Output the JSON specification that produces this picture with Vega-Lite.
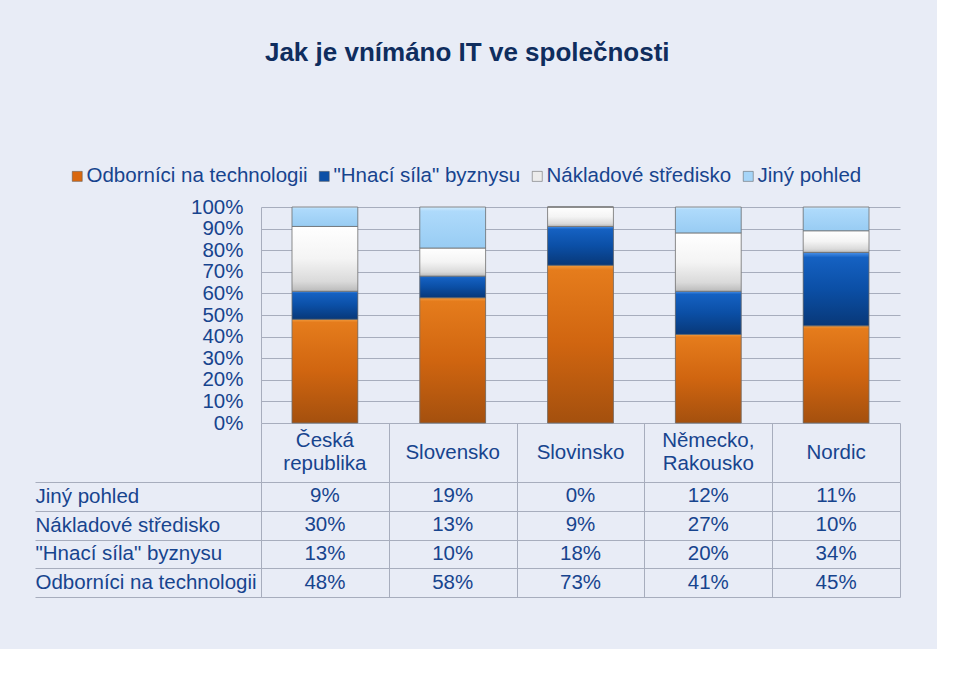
{
  "$schema": "https://vega.github.io/schema/vega-lite/v6.json",
  "background": "#E8ECF6",
  "padding": {"left": 34, "top": 40, "right": 37, "bottom": 51},
  "title": {
    "text": "Jak je vnímáno IT ve společnosti",
    "fontSize": 26,
    "font": "Liberation Sans",
    "fontWeight": "bold",
    "color": "#0F2D5E",
    "anchor": "middle",
    "offset": 100
  },
  "datasets": {
    "survey": [
      {"country": "Česká republika", "series": "Odborníci na technologii", "value": 0.48},
      {"country": "Česká republika", "series": "\"Hnací síla\" byznysu", "value": 0.13},
      {"country": "Česká republika", "series": "Nákladové středisko", "value": 0.30},
      {"country": "Česká republika", "series": "Jiný pohled", "value": 0.09},
      {"country": "Slovensko", "series": "Odborníci na technologii", "value": 0.58},
      {"country": "Slovensko", "series": "\"Hnací síla\" byznysu", "value": 0.10},
      {"country": "Slovensko", "series": "Nákladové středisko", "value": 0.13},
      {"country": "Slovensko", "series": "Jiný pohled", "value": 0.19},
      {"country": "Slovinsko", "series": "Odborníci na technologii", "value": 0.73},
      {"country": "Slovinsko", "series": "\"Hnací síla\" byznysu", "value": 0.18},
      {"country": "Slovinsko", "series": "Nákladové středisko", "value": 0.09},
      {"country": "Slovinsko", "series": "Jiný pohled", "value": 0.00},
      {"country": "Německo, Rakousko", "series": "Odborníci na technologii", "value": 0.41},
      {"country": "Německo, Rakousko", "series": "\"Hnací síla\" byznysu", "value": 0.20},
      {"country": "Německo, Rakousko", "series": "Nákladové středisko", "value": 0.27},
      {"country": "Německo, Rakousko", "series": "Jiný pohled", "value": 0.12},
      {"country": "Nordic", "series": "Odborníci na technologii", "value": 0.45},
      {"country": "Nordic", "series": "\"Hnací síla\" byznysu", "value": 0.34},
      {"country": "Nordic", "series": "Nákladové středisko", "value": 0.10},
      {"country": "Nordic", "series": "Jiný pohled", "value": 0.11}
    ]
  },
  "spacing": 0,
  "bounds": "flush",
  "resolve": {"legend": {"color": "independent"}, "scale": {"x": "independent", "y": "independent", "color": "independent"}},
  "vconcat": [
    {
      "width": 639,
      "height": 216,
      "data": {"name": "survey"},
      "transform": [
        {"calculate": "indexof(['Odborníci na technologii', '\"Hnací síla\" byznysu', 'Nákladové středisko', 'Jiný pohled'], datum.series)", "as": "stackOrder"},
        {"stack": "value", "groupby": ["country"], "sort": [{"field": "stackOrder", "order": "ascending"}], "as": ["v0", "v1"]}
      ],
      "encoding": {
        "x": {
          "field": "country",
          "type": "nominal",
          "sort": ["Česká republika", "Slovensko", "Slovinsko", "Německo, Rakousko", "Nordic"],
          "scale": {"paddingInner": 0, "paddingOuter": 0},
          "axis": null
        },
        "y": {
          "field": "v1",
          "type": "quantitative",
          "scale": {"domain": [0, 1], "nice": false},
          "axis": {
            "title": null,
            "format": ".0%",
            "values": [0, 0.1, 0.2, 0.3, 0.4, 0.5, 0.6, 0.7, 0.8, 0.9, 1],
            "labelFont": "Liberation Sans",
            "labelFontSize": 20.5,
            "labelColor": "#17448E",
            "labelPadding": 18,
            "labelOverlap": false,
            "labelFlush": false,
            "ticks": false,
            "domainColor": "#A7ADBD",
            "grid": true,
            "gridColor": "#A7ADBD",
            "gridWidth": 1
          }
        },
        "y2": {"field": "v0"}
      },
      "layer": [
        {
          "mark": {"type": "bar", "width": {"band": 0.515}},
          "encoding": {
            "color": {
              "field": "series",
              "type": "nominal",
              "sort": ["Odborníci na technologii", "\"Hnací síla\" byznysu", "Nákladové středisko", "Jiný pohled"],
              "scale": {"range": ["#D9680F", "#0B4FA6", "#ECECEC", "#A6D5F8"]},
              "legend": {
                "title": null,
                "orient": "none",
                "direction": "horizontal",
                "legendX": -194,
                "legendY": -41,
                "symbolType": "square",
                "symbolSize": 100,
                "symbolStrokeColor": "#555555",
                "symbolStrokeWidth": 0.5,
                "labelFont": "Liberation Sans",
                "labelFontSize": 20.5,
                "labelColor": "#17448E",
                "labelLimit": 0,
                "labelOffset": -1,
                "columnPadding": 6
              }
            }
          }
        },
        {
          "transform": [{"filter": "datum.series == 'Odborníci na technologii'"}],
          "mark": {
            "type": "bar", "width": {"band": 0.515}, "stroke": "#6E6E6E", "strokeWidth": 0.8,
            "fill": {"gradient": "linear", "x1": 0, "y1": 0, "x2": 0, "y2": 1,
              "stops": [{"offset": 0, "color": "#F29A3C"}, {"offset": 0.03, "color": "#E57C1C"}, {"offset": 0.5, "color": "#D06510"}, {"offset": 1, "color": "#A4500E"}]}
          }
        },
        {
          "transform": [{"filter": "datum.series == '\"Hnací síla\" byznysu'"}],
          "mark": {
            "type": "bar", "width": {"band": 0.515}, "stroke": "#6E6E6E", "strokeWidth": 0.8,
            "fill": {"gradient": "linear", "x1": 0, "y1": 0, "x2": 0, "y2": 1,
              "stops": [{"offset": 0, "color": "#4A92EA"}, {"offset": 0.07, "color": "#1561C2"}, {"offset": 0.5, "color": "#0B4FA6"}, {"offset": 1, "color": "#083878"}]}
          }
        },
        {
          "transform": [{"filter": "datum.series == 'Nákladové středisko'"}],
          "mark": {
            "type": "bar", "width": {"band": 0.515}, "stroke": "#6E6E6E", "strokeWidth": 0.8,
            "fill": {"gradient": "linear", "x1": 0, "y1": 0, "x2": 0, "y2": 1,
              "stops": [{"offset": 0, "color": "#FFFFFF"}, {"offset": 0.5, "color": "#F4F4F4"}, {"offset": 0.85, "color": "#DADADA"}, {"offset": 1, "color": "#BBBBBB"}]}
          }
        },
        {
          "transform": [{"filter": "datum.series == 'Jiný pohled'"}],
          "mark": {
            "type": "bar", "width": {"band": 0.515}, "stroke": "#6E6E6E", "strokeWidth": 0.8,
            "fill": {"gradient": "linear", "x1": 0, "y1": 0, "x2": 0, "y2": 1,
              "stops": [{"offset": 0, "color": "#D2ECFE"}, {"offset": 0.1, "color": "#AEDAFB"}, {"offset": 1, "color": "#98CCF3"}]}
          }
        }
      ]
    },
    {
      "width": 639,
      "height": 59,
      "data": {"name": "survey"},
      "transform": [{"filter": "datum.series == 'Jiný pohled'"}],
      "encoding": {
        "x": {
          "field": "country",
          "type": "nominal",
          "sort": ["Česká republika", "Slovensko", "Slovinsko", "Německo, Rakousko", "Nordic"],
          "scale": {"paddingInner": 0, "paddingOuter": 0},
          "axis": {
            "title": null,
            "labels": false,
            "ticks": false,
            "domain": false,
            "grid": true,
            "tickBand": "extent",
            "gridColor": "#A7ADBD"
          }
        },
        "text": {"field": "country", "type": "nominal"}
      },
      "layer": [
        {
          "transform": [{"filter": "indexof(datum.country, ' ') >= 0"}],
          "mark": {"type": "text", "font": "Liberation Sans", "fontSize": 20.5, "color": "#17448E", "lineBreak": " ", "lineHeight": 23, "baseline": "middle", "dy": -11.5}
        },
        {
          "transform": [{"filter": "indexof(datum.country, ' ') < 0"}],
          "mark": {"type": "text", "font": "Liberation Sans", "fontSize": 20.5, "color": "#17448E", "baseline": "middle"}
        }
      ]
    },
    {
      "width": 639,
      "height": 115,
      "data": {"name": "survey"},
      "mark": {"type": "text", "font": "Liberation Sans", "fontSize": 20.5, "color": "#17448E"},
      "encoding": {
        "x": {
          "field": "country",
          "type": "nominal",
          "sort": ["Česká republika", "Slovensko", "Slovinsko", "Německo, Rakousko", "Nordic"],
          "scale": {"paddingInner": 0, "paddingOuter": 0},
          "axis": {
            "title": null,
            "labels": false,
            "ticks": false,
            "domain": false,
            "grid": true,
            "tickBand": "extent",
            "gridColor": "#A7ADBD"
          }
        },
        "y": {
          "field": "series",
          "type": "nominal",
          "sort": ["Jiný pohled", "Nákladové středisko", "\"Hnací síla\" byznysu", "Odborníci na technologii"],
          "scale": {"paddingInner": 0, "paddingOuter": 0},
          "axis": {
            "title": null,
            "labelAlign": "left",
            "labelPadding": 0,
            "labelFont": "Liberation Sans",
            "labelFontSize": 20.5,
            "labelColor": "#17448E",
            "labelLimit": 0,
            "tickBand": "extent",
            "tickSize": 226,
            "tickColor": "#A7ADBD",
            "domainColor": "#A7ADBD",
            "grid": true,
            "gridColor": "#A7ADBD"
          }
        },
        "text": {"field": "value", "type": "quantitative", "format": ".0%"}
      }
    }
  ],
  "config": {
    "view": {"stroke": null},
    "font": "Liberation Sans"
  }
}
